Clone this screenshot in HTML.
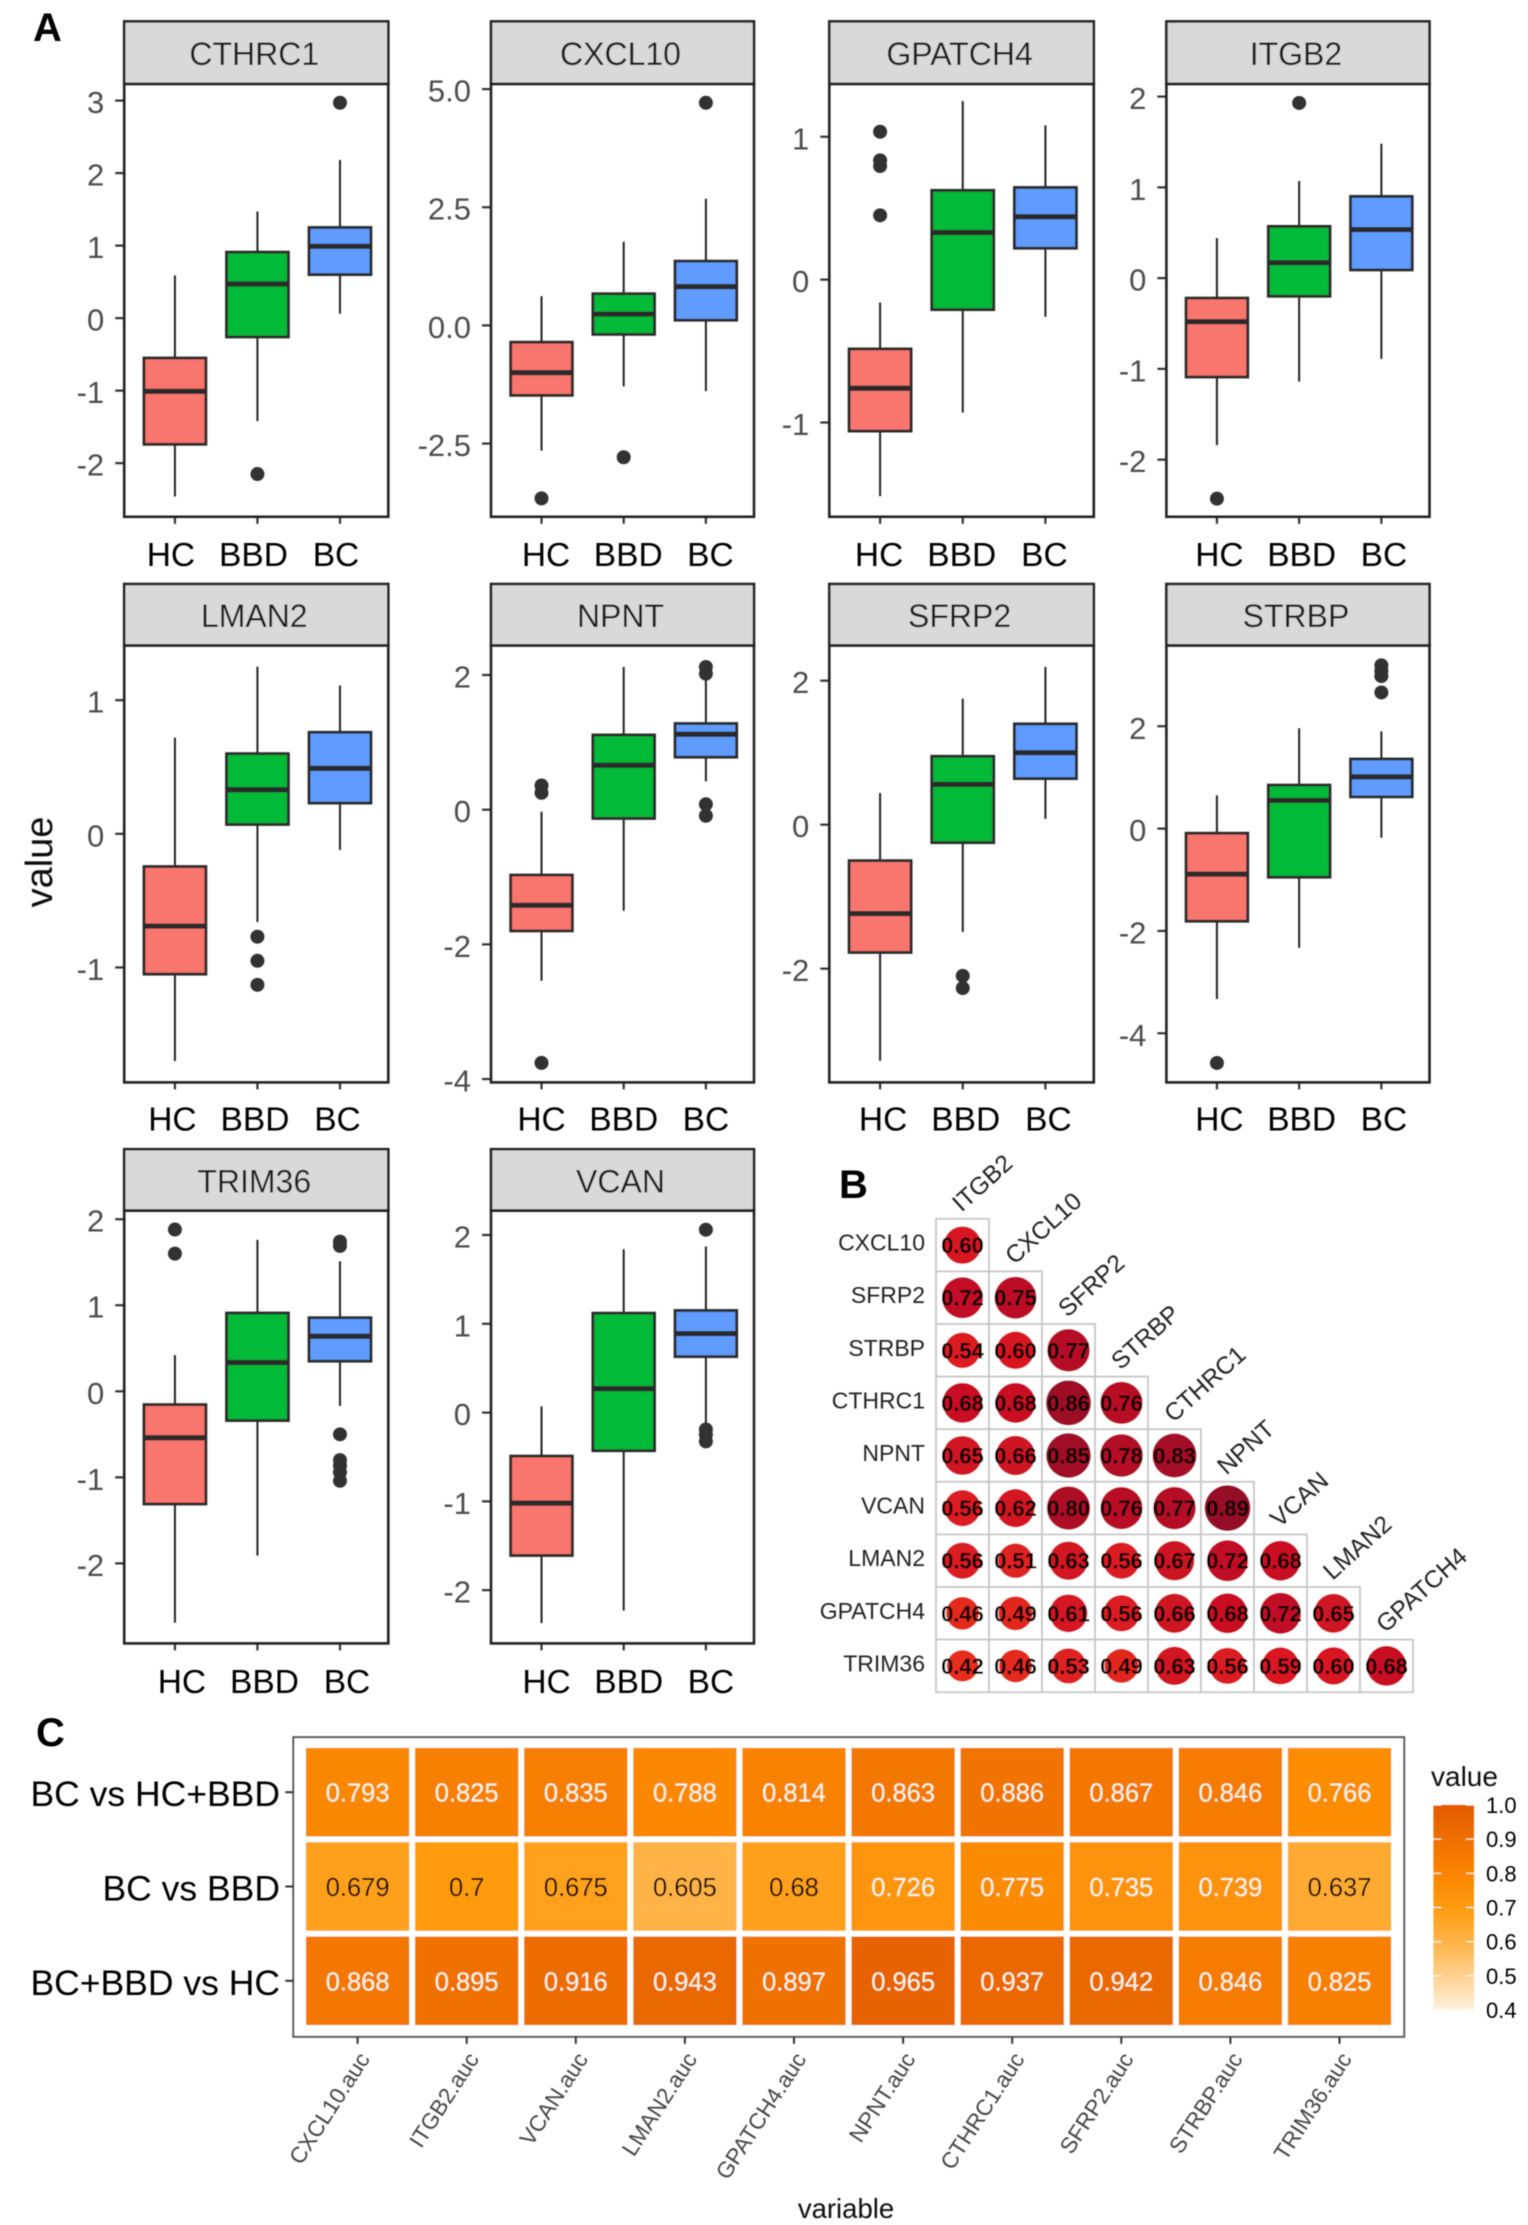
<!DOCTYPE html>
<html lang="en">
<head>
<meta charset="utf-8">
<title>Boxplots, correlation matrix and AUC heatmap</title>
<style>
html,body{margin:0;padding:0;background:#fff;}
svg{display:block;font-family:"Liberation Sans",sans-serif;}
</style>
</head>
<body>
<svg id="figure" xmlns="http://www.w3.org/2000/svg" width="1528" height="2225" viewBox="0 0 1528 2225">
<rect x="0" y="0" width="1528" height="2225" fill="#fff"/>
<g id="figure-content" filter="url(#soften)">
<defs>
<filter id="soften" x="0" y="0" width="100%" height="100%"><feGaussianBlur stdDeviation="0.55"/></filter>
<linearGradient id="legend-gradient" x1="0" y1="1" x2="0" y2="0"></linearGradient>
</defs>
<text x="33" y="41" font-size="40" font-weight="bold" fill="#000">A</text>
<text x="839" y="1198" font-size="40" font-weight="bold" fill="#000">B</text>
<text x="36" y="1746" font-size="40" font-weight="bold" fill="#000">C</text>
<text transform="translate(52,862) rotate(-90)" text-anchor="middle" font-size="38" fill="#111">value</text>
<text x="846" y="2218" text-anchor="middle" font-size="27.5" fill="#111">variable</text>
<text x="1431" y="1786" font-size="28" fill="#111">value</text>
<g id="boxplots"></g>
<g id="corr"></g>
<g id="heat"></g>
<g id="legend"></g>
</g>
</svg>
<script>
/* ---------- Panel A data: [lower whisker, Q1, median, Q3, upper whisker] per group ---------- */
const groups = ['HC', 'BBD', 'BC'];

const CTHRC1Box = [[-2.46,-1.74,-1.01,-0.55,0.59],[-1.42,-0.26,0.47,0.91,1.47],[0.06,0.60,0.99,1.25,2.18]];
const CTHRC1Out = [[],[-2.15],[2.97]];
const CTHRC1Domain = [-2.74,3.23];
const CTHRC1Ticks = ['-2','-1','0','1','2','3'];

const CXCL10Box = [[-2.65,-1.48,-1.0,-0.355,0.62],[-1.29,-0.19,0.24,0.67,1.77],[-1.39,0.11,0.82,1.36,2.68]];
const CXCL10Out = [[-3.66],[-2.79],[4.71]];
const CXCL10Domain = [-4.05,5.11];
const CXCL10Ticks = ['-2.5','0.0','2.5','5.0'];

const GPATCH4Box = [[-1.515,-1.06,-0.76,-0.485,-0.16],[-0.93,-0.21,0.33,0.625,1.25],[-0.26,0.22,0.44,0.645,1.08]];
const GPATCH4Out = [[1.035,0.835,0.795,0.45],[],[]];
const GPATCH4Domain = [-1.66,1.37];
const GPATCH4Ticks = ['-1','0','1'];

const ITGB2Box = [[-1.84,-1.09,-0.48,-0.22,0.44],[-1.14,-0.2,0.17,0.57,1.07],[-0.89,0.09,0.535,0.9,1.48]];
const ITGB2Out = [[-2.43],[1.93],[]];
const ITGB2Domain = [-2.63,2.14];
const ITGB2Ticks = ['-2','-1','0','1','2'];

const LMAN2Box = [[-1.70,-1.05,-0.69,-0.245,0.72],[-0.66,0.07,0.33,0.60,1.25],[-0.12,0.23,0.49,0.76,1.11]];
const LMAN2Out = [[],[-0.77,-0.95,-1.13],[]];
const LMAN2Domain = [-1.86,1.41];
const LMAN2Ticks = ['-1','0','1'];

const NPNTBox = [[-2.54,-1.80,-1.42,-0.97,-0.03],[-1.5,-0.13,0.66,1.11,2.12],[0.42,0.78,1.12,1.28,1.93]];
const NPNTOut = [[-3.76,0.36,0.25],[],[2.12,2.02,0.08,-0.09]];
const NPNTDomain = [-4.05,2.44];
const NPNTTicks = ['-4','-2','0','2'];

const SFRP2Box = [[-3.28,-1.775,-1.235,-0.5,0.44],[-1.49,-0.25,0.56,0.95,1.75],[0.08,0.64,1.0,1.40,2.19]];
const SFRP2Out = [[],[-2.10,-2.27],[]];
const SFRP2Domain = [-3.58,2.49];
const SFRP2Ticks = ['-2','0','2'];

const STRBPBox = [[-3.33,-1.81,-0.89,-0.09,0.65],[-2.33,-0.95,0.55,0.85,1.96],[-0.18,0.62,1.01,1.36,1.90]];
const STRBPOut = [[-4.58],[],[3.19,3.08,2.98,2.66]];
const STRBPDomain = [-4.96,3.58];
const STRBPTicks = ['-4','-2','0','2'];

const TRIM36Box = [[-2.69,-1.31,-0.54,-0.155,0.42],[-1.91,-0.34,0.335,0.91,1.76],[-0.17,0.35,0.64,0.855,1.51]];
const TRIM36Out = [[1.88,1.60],[],[1.74,1.69,-0.5,-0.80,-0.865,-0.94,-1.04]];
const TRIM36Domain = [-2.93,2.10];
const TRIM36Ticks = ['-2','-1','0','1','2'];

const VCANBox = [[-2.37,-1.61,-1.02,-0.49,0.07],[-2.23,-0.43,0.27,1.12,1.84],[-0.15,0.63,0.89,1.15,1.87]];
const VCANOut = [[],[],[2.06,-0.19,-0.25,-0.325]];
const VCANDomain = [-2.6,2.275];
const VCANTicks = ['-2','-1','0','1','2'];

/* ---------- Panel B data ---------- */
const corrRowLabels = ['CXCL10','SFRP2','STRBP','CTHRC1','NPNT','VCAN','LMAN2','GPATCH4','TRIM36'];
const corrColLabels = ['ITGB2','CXCL10','SFRP2','STRBP','CTHRC1','NPNT','VCAN','LMAN2','GPATCH4'];
const corrCXCL10 = [0.60];
const corrSFRP2 = [0.72,0.75];
const corrSTRBP = [0.54,0.60,0.77];
const corrCTHRC1 = [0.68,0.68,0.86,0.76];
const corrNPNT = [0.65,0.66,0.85,0.78,0.83];
const corrVCAN = [0.56,0.62,0.80,0.76,0.77,0.89];
const corrLMAN2 = [0.56,0.51,0.63,0.56,0.67,0.72,0.68];
const corrGPATCH4 = [0.46,0.49,0.61,0.56,0.66,0.68,0.72,0.65];
const corrTRIM36 = [0.42,0.46,0.53,0.49,0.63,0.56,0.59,0.60,0.68];
const corrStopValues = [0.4,0.6,0.75,0.9];
const corrStopColors = ['#e8321f','#d81620','#bc0d27','#920a28'];

/* ---------- Panel C data ---------- */
const aucVariables = ['CXCL10.auc','ITGB2.auc','VCAN.auc','LMAN2.auc','GPATCH4.auc','NPNT.auc','CTHRC1.auc','SFRP2.auc','STRBP.auc','TRIM36.auc'];
const aucComparisons = ['BC vs HC+BBD','BC vs BBD','BC+BBD vs HC'];
const aucBCvsAll = ['0.793','0.825','0.835','0.788','0.814','0.863','0.886','0.867','0.846','0.766'];
const aucBCvsBBD = ['0.679','0.7','0.675','0.605','0.68','0.726','0.775','0.735','0.739','0.637'];
const aucCasesVsHC = ['0.868','0.895','0.916','0.943','0.897','0.965','0.937','0.942','0.846','0.825'];
const legendTicks = ['0.4','0.5','0.6','0.7','0.8','0.9','1.0'];
const heatStopValues = [0.4,0.5,0.6,0.7,0.8,0.9,1.0];
const heatStopColors = ['#fff2e0','#ffd08f','#ffb347','#ff9b0f','#fa8500','#ef7000','#e35a00'];

/* ---------- helpers ---------- */
const NS = 'http://www.w3.org/2000/svg';
function mk(tag, parent, attrs, text) {
  const node = document.createElementNS(NS, tag);
  for (const k in attrs) node.setAttribute(k, attrs[k]);
  if (text !== undefined) node.textContent = text;
  parent.appendChild(node);
  return node;
}
function hexToRgb(h) { return [1,3,5].map(i => parseInt(h.substr(i,2),16)); }
function rampColor(v, stops, colors) {
  if (v <= stops[0]) return colors[0];
  for (let i = 1; i < stops.length; i++) {
    if (v <= stops[i]) {
      const t = (v - stops[i-1]) / (stops[i] - stops[i-1]);
      const a = hexToRgb(colors[i-1]), b = hexToRgb(colors[i]);
      return 'rgb(' + a.map((c,j) => Math.round(c + (b[j]-c)*t)).join(',') + ')';
    }
  }
  return colors[colors.length-1];
}

/* ---------- Panel A ---------- */
const genes = [
  {name:'CTHRC1', box:CTHRC1Box, out:CTHRC1Out, domain:CTHRC1Domain, ticks:CTHRC1Ticks},
  {name:'CXCL10', box:CXCL10Box, out:CXCL10Out, domain:CXCL10Domain, ticks:CXCL10Ticks},
  {name:'GPATCH4', box:GPATCH4Box, out:GPATCH4Out, domain:GPATCH4Domain, ticks:GPATCH4Ticks},
  {name:'ITGB2', box:ITGB2Box, out:ITGB2Out, domain:ITGB2Domain, ticks:ITGB2Ticks},
  {name:'LMAN2', box:LMAN2Box, out:LMAN2Out, domain:LMAN2Domain, ticks:LMAN2Ticks},
  {name:'NPNT', box:NPNTBox, out:NPNTOut, domain:NPNTDomain, ticks:NPNTTicks},
  {name:'SFRP2', box:SFRP2Box, out:SFRP2Out, domain:SFRP2Domain, ticks:SFRP2Ticks},
  {name:'STRBP', box:STRBPBox, out:STRBPOut, domain:STRBPDomain, ticks:STRBPTicks},
  {name:'TRIM36', box:TRIM36Box, out:TRIM36Out, domain:TRIM36Domain, ticks:TRIM36Ticks},
  {name:'VCAN', box:VCANBox, out:VCANOut, domain:VCANDomain, ticks:VCANTicks}
];
const groupFill = ['#F8766D','#00BA38','#619CFF'];
const colEdges = [[124.2,388.3],[491,754],[829.3,1093.8],[1166.4,1429.5]];
const rowEdges = [[21.4,83.9,516.8,566],[584,645.4,1082.4,1130.5],[1149.2,1210.6,1643.4,1693]];
const catLabelShift = [-4,4.5,-1,2.5,-2.5,0,3,2.5,7,5];
const root = document.getElementById('boxplots');

genes.forEach(function (gene, idx) {
  const cE = colEdges[idx % 4], rE = rowEdges[Math.floor(idx / 4)];
  const L = cE[0], R = cE[1], sTop = rE[0], T = rE[1], B = rE[2], labelBase = rE[3];
  const xScale = i => L + (0.6 + i) * (R - L) / 3.2 + 1.2;
  const yScale = v => B - (v - gene.domain[0]) / (gene.domain[1] - gene.domain[0]) * (B - T);
  const boxW = 0.75 * (R - L) / 3.2;

  const g = mk('g', root, {});
  
  

  const strip = mk('rect', g, {x:L, y:sTop, width:R-L, height:T-sTop, fill:'#d9d9d9', stroke:'#222', 'stroke-width':2.6});
  
  

  const title = mk('text', g, {x:(L+R)/2 - 2, y:(sTop+T)/2 + 12.5, 'text-anchor':'middle', 'font-size':32, fill:'#1a1a1a'}, gene.name);
  
  

  gene.ticks.forEach(function (label) {
    const y = yScale(parseFloat(label));
    const tick = mk('line', g, {x1:L-9, x2:L, y1:y, y2:y, stroke:'#333', 'stroke-width':2.2});
    
    
    const tickText = mk('text', g, {x:L-20, y:y+12.5, 'text-anchor':'end', 'font-size':31, fill:'#4d4d4d'}, label);
    
    
  });

  groups.forEach(function (grp, i) {
    const cx = xScale(i), s = gene.box[i];
    const tick = mk('line', g, {x1:cx, x2:cx, y1:B, y2:B+7, stroke:'#333', 'stroke-width':2.2});
    
    
    const catText = mk('text', g, {x:cx + catLabelShift[idx], y:labelBase, 'text-anchor':'middle', 'font-size':33.5, fill:'#000'}, grp);
    
    

    const whisker = mk('line', g, {x1:cx, x2:cx, y1:yScale(s[0]), y2:yScale(s[4]), stroke:'#222', 'stroke-width':2});
    
    

    const box = mk('rect', g, {x:cx-boxW/2, y:yScale(s[3]), width:boxW, height:yScale(s[1])-yScale(s[3]), fill:groupFill[i], stroke:'#2b2b2b', 'stroke-width':2.8});
    
    

    const median = mk('line', g, {x1:cx-boxW/2, x2:cx+boxW/2, y1:yScale(s[2]), y2:yScale(s[2]), stroke:'#2b2b2b', 'stroke-width':5.2});
    
    

    gene.out[i].forEach(function (v) {
      const dot = mk('circle', g, {cx:cx, cy:yScale(v), r:7, fill:'#333'});
      
      
    });
  });

  const frame = mk('rect', g, {x:L, y:T, width:R-L, height:B-T, fill:'none', stroke:'#222', 'stroke-width':2.6});
  
  
});

/* ---------- Panel B ---------- */
const corrRows = [corrCXCL10,corrSFRP2,corrSTRBP,corrCTHRC1,corrNPNT,corrVCAN,corrLMAN2,corrGPATCH4,corrTRIM36];
const corrRoot = document.getElementById('corr');
const corrLeft = 936, corrTop = 1218.8, corrCellW = 53.0, corrCellH = 52.6;

corrRowLabels.forEach(function (label, r) {
  const rowText = mk('text', corrRoot, {x:corrLeft-11, y:corrTop + r*corrCellH + corrCellH/2 + 5.5, 'text-anchor':'end', 'font-size':23, fill:'#222'}, label);
  
  

  const colX = corrLeft + r*corrCellW + corrCellW/2 - 1;
  const colY = corrTop + r*corrCellH - 6;
  const colText = mk('text', corrRoot, {x:colX, y:colY, transform:'rotate(-42 ' + colX + ' ' + colY + ')', 'font-size':24.5, fill:'#222'}, corrColLabels[r]);
  
  

  corrRows[r].forEach(function (v, c) {
    const x = corrLeft + c*corrCellW, y = corrTop + r*corrCellH;
    const cell = mk('rect', corrRoot, {x:x, y:y, width:corrCellW, height:corrCellH, fill:'#fff', stroke:'#c6c6c6', 'stroke-width':1.8});
    
    
    const dot = mk('circle', corrRoot, {cx:x+corrCellW/2, cy:y+corrCellH/2, r:48.5*Math.sqrt(v)/2, fill:rampColor(v, corrStopValues, corrStopColors)});
    
    
    const val = mk('text', corrRoot, {x:x+corrCellW/2, y:y+corrCellH/2+8, 'text-anchor':'middle', 'font-size':22, 'font-weight':'bold', fill:'#000'}, v.toFixed(2));
    
    
  });
});

/* ---------- Panel C ---------- */
const aucRows = [aucBCvsAll, aucBCvsBBD, aucCasesVsHC];
const heatRoot = document.getElementById('heat');
const heatLeft = 293.3, heatRight = 1404.2, heatTop = 1737.2, heatBottom = 2036.8;
const heatCol = i => 357.6 + i * 109.1;
const heatRow = j => 1792.2 + j * 94.3;
const heatCellW = 103.3, heatCellH = 88.6;

const heatFrame = mk('rect', heatRoot, {x:heatLeft, y:heatTop, width:heatRight-heatLeft, height:heatBottom-heatTop, fill:'#fff', stroke:'#555', 'stroke-width':2});



aucComparisons.forEach(function (label, j) {
  const y = heatRow(j);
  const tick = mk('line', heatRoot, {x1:heatLeft-8, x2:heatLeft, y1:y, y2:y, stroke:'#333', 'stroke-width':2});
  
  
  const rowText = mk('text', heatRoot, {x:280, y:y+14, 'text-anchor':'end', 'font-size':35.5, fill:'#000'}, label);
  
  

  aucRows[j].forEach(function (txt, i) {
    const v = parseFloat(txt), cx = heatCol(i);
    const cell = mk('rect', heatRoot, {x:cx-heatCellW/2, y:y-heatCellH/2, width:heatCellW, height:heatCellH, fill:rampColor(v, heatStopValues, heatStopColors)});
    
    
    const val = mk('text', heatRoot, {x:cx, y:y+9.5, 'text-anchor':'middle', 'font-size':25.5, fill: v <= 0.7 ? '#000' : '#fff6e6'}, txt);
    
    
  });
});

aucVariables.forEach(function (label, i) {
  const cx = heatCol(i);
  const tick = mk('line', heatRoot, {x1:cx, x2:cx, y1:heatBottom, y2:heatBottom+7, stroke:'#333', 'stroke-width':2});
  
  
  const ax = cx + 13, ay = 2059;
  const varText = mk('text', heatRoot, {x:ax, y:ay, transform:'rotate(-57 ' + ax + ' ' + ay + ')', 'text-anchor':'end', 'font-size':22.5, fill:'#444'}, label);
  
  
});

/* ---------- Legend ---------- */
const legendRoot = document.getElementById('legend');
const legendY = v => 2010 - (v - 0.4) / 0.6 * 205;
const gradient = document.getElementById('legend-gradient');
heatStopValues.forEach(function (v, i) {
  mk('stop', gradient, {offset:(v-0.4)/0.6, 'stop-color':heatStopColors[i]});
});
const legendBar = mk('rect', legendRoot, {x:1433.4, y:legendY(1), width:40.6, height:legendY(0.4)-legendY(1), fill:'url(#legend-gradient)'});


legendTicks.forEach(function (label) {
  const y = legendY(parseFloat(label));
  const t1 = mk('line', legendRoot, {x1:1433.4, x2:1441.5, y1:y, y2:y, stroke:'#fff', 'stroke-width':1});
  
  
  const t2 = mk('line', legendRoot, {x1:1466, x2:1474, y1:y, y2:y, stroke:'#fff', 'stroke-width':1});
  
  
  const txt = mk('text', legendRoot, {x:1486, y:y+8, 'font-size':22, fill:'#000'}, label);
  
  
});
</script>
</body>
</html>
